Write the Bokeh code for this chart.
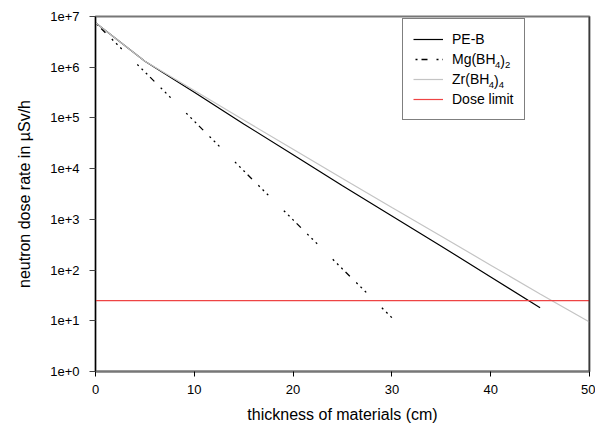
from bokeh.plotting import figure
from bokeh.models import (FixedTicker, CustomJSTickFormatter, Legend, LegendItem,
                          Span, Label)
from bokeh.embed import file_html
from bokeh.resources import INLINE

# ---- data ----
pe_x = [0, 5, 10, 15, 20, 25, 30, 35, 40, 45]
pe_y = [7.5e6, 1.31e6, 3.2e5, 7.6e4, 1.88e4, 4.6e3, 1.17e3, 296, 73, 18]

mg_x = [0, 5, 10, 15, 20, 25, 30]
mg_y = [7.5e6, 8.05e5, 8.6e4, 9.1e3, 977, 105, 11.5]

zr_x = [0, 5, 10, 15, 20, 25, 30, 35, 40, 45, 50]
zr_y = [7.5e6, 1.31e6, 3.46e5, 9.1e4, 2.41e4, 6.4e3, 1.72e3, 465, 125, 33.8, 9.5]

limit_x = [0, 50]
limit_y = [25, 25]

x_ticks = [0, 10, 20, 30, 40, 50]
y_ticks = [1, 10, 100, 1e3, 1e4, 1e5, 1e6, 1e7]

# legend texts: base part + (text, is_subscript) pieces
labels = ["PE-B", "Mg(BH", "Zr(BH", "Dose limit"]
suffixes = {1: [("4", True), (")", False), ("2", True)],
            2: [("4", True), (")", False), ("4", True)]}

FONT = "Liberation Sans"
FS = 14       # legend font size
SUB_FS = 9.5  # subscript font size

# Arial / Liberation Sans advance widths (em)
W = {"M": .833, "g": .556, "(": .333, ")": .333, "B": .667, "H": .722, "Z": .611,
     "r": .333, "2": .556, "4": .556}


def text_w(s, fs):
    return sum(W.get(c, .556) for c in s) * fs


p = figure(width=595, height=425, x_range=(0, 50), y_range=(1, 1e7),
           y_axis_type="log", output_backend="svg", toolbar_location=None,
           min_border_left=95, min_border_right=6, min_border_top=16,
           min_border_bottom=52)
p.xgrid.visible = False
p.ygrid.visible = False
p.outline_line_color = "#777777"
p.outline_line_width = 2
p.background_fill_color = "white"
p.border_fill_color = "white"

r_pe = p.line(pe_x, pe_y, line_color="black", line_width=1.2)
r_mg = p.line(mg_x, mg_y, line_color="black", line_width=1.3,
              line_dash="2 4 2 4 2 4 6 9 2 4 2 4 2 22", line_dash_offset=10)
r_zr = p.line(zr_x, zr_y, line_color="#c4c4c4", line_width=1.2)
r_lim = p.line(limit_x, limit_y, line_color="#ee4444", line_width=1.2)

# right border in black
p.add_layout(Span(location=50, dimension="height", line_color="black", line_width=1.5))

# axes
xa = p.xaxis[0]
xa.ticker = FixedTicker(ticks=x_ticks)
xa.axis_label = "thickness of materials (cm)"
xa.axis_line_color = "#777777"
xa.axis_line_width = 2
xa.major_tick_out = 5
xa.major_tick_in = 0
xa.minor_tick_out = 0
xa.minor_tick_in = 0
xa.major_tick_line_color = "black"
xa.major_label_text_font = FONT
xa.major_label_text_font_size = "13px"
xa.major_label_text_color = "black"
xa.major_label_standoff = 8
xa.axis_label_text_font = FONT
xa.axis_label_text_font_size = "16px"
xa.axis_label_text_font_style = "normal"
xa.axis_label_text_color = "black"
xa.axis_label_standoff = 9

ya = p.yaxis[0]
ya.ticker = FixedTicker(ticks=y_ticks)
ya.formatter = CustomJSTickFormatter(code="return '1e+' + Math.round(Math.log10(tick));")
ya.axis_label = "neutron dose rate in µSv/h"
ya.axis_line_color = "black"
ya.axis_line_width = 1.2
ya.major_tick_out = 6
ya.major_tick_in = 0
ya.minor_tick_out = 0
ya.minor_tick_in = 0
ya.major_tick_line_color = "#444444"
ya.major_label_text_font = FONT
ya.major_label_text_font_size = "13px"
ya.major_label_text_color = "black"
ya.major_label_standoff = 10
ya.axis_label_text_font = FONT
ya.axis_label_text_font_size = "16px"
ya.axis_label_text_font_style = "normal"
ya.axis_label_text_color = "black"
ya.axis_label_standoff = 14

# legend (frame-relative screen units)
LEG_X, LEG_Y = 307, 251
PAD, GW, GH, STAND = 10, 30, 20, 9
legend = Legend(items=[LegendItem(label=t, renderers=[r])
                       for t, r in zip(labels, [r_pe, r_mg, r_zr, r_lim])],
                location=(LEG_X, LEG_Y))
legend.border_line_color = "black"
legend.border_line_width = 1
legend.background_fill_alpha = 0
legend.padding = PAD
legend.spacing = 0
legend.margin = 0
legend.glyph_width = GW
legend.glyph_height = GH
legend.label_height = GH
legend.label_width = 62
legend.label_standoff = STAND
legend.label_text_font = FONT
legend.label_text_font_size = f"{FS}px"
legend.label_text_color = "black"
p.add_layout(legend)

# chemical-formula subscripts, appended after the legend base labels
leg_h = 2 * PAD + GH * len(labels)
text_x0 = LEG_X + PAD + GW + STAND
for i, pieces in suffixes.items():
    row_mid = LEG_Y + leg_h - PAD - GH * i - GH / 2
    x = text_x0 + text_w(labels[i], FS)
    for s, sub in pieces:
        fs = SUB_FS if sub else FS
        p.add_layout(Label(x=x, y=row_mid - (4.5 if sub else 0),
                           x_units="screen", y_units="screen", text=s,
                           text_font=FONT, text_font_size=f"{fs}px",
                           text_color="black", text_baseline="middle",
                           text_align="left"))
        x += text_w(s, fs)

open("out.html", "w").write(file_html(p, INLINE))
